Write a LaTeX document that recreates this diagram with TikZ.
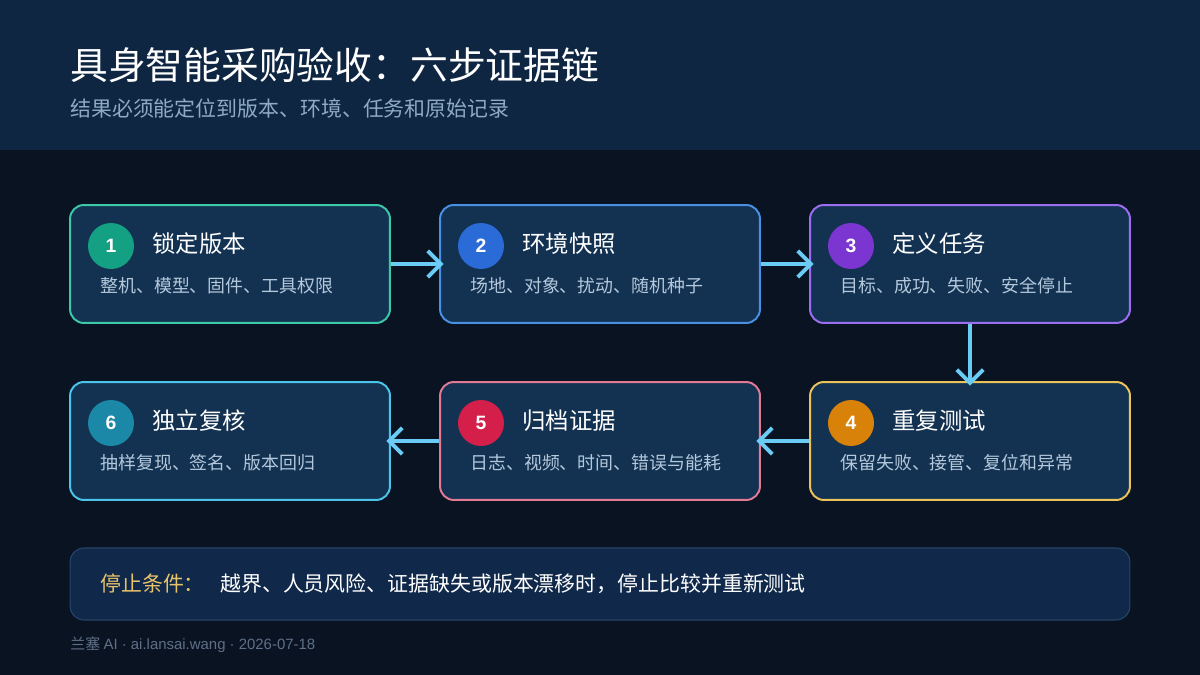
\documentclass[tikz,border=0pt]{standalone}
\usepackage{fontspec}
\setmainfont{Noto Sans CJK SC}
\newfontfamily\numfont{Liberation Sans}
\usetikzlibrary{arrows.meta}
\definecolor{bgdark}{HTML}{0A1322}
\definecolor{bghead}{HTML}{0F2643}
\definecolor{boxfill}{HTML}{133252}
\definecolor{stopfill}{HTML}{10294A}
\definecolor{stopline}{HTML}{26466A}
\definecolor{subgrey}{HTML}{8FA9C6}
\definecolor{descgrey}{HTML}{B4C8DC}
\definecolor{footgrey}{HTML}{5E7088}
\definecolor{arrowblue}{HTML}{6ACCF5}
\definecolor{gold}{HTML}{E8C36A}
\definecolor{teal1}{HTML}{3CC7A8}\definecolor{tealc}{HTML}{14A083}
\definecolor{blue1}{HTML}{4A90E2}\definecolor{bluec}{HTML}{2A6BD8}
\definecolor{purp1}{HTML}{9B6EF0}\definecolor{purpc}{HTML}{7B35D0}
\definecolor{gold1}{HTML}{E9C35A}\definecolor{goldc}{HTML}{D9820A}
\definecolor{pink1}{HTML}{E07A95}\definecolor{pinkc}{HTML}{D41F4B}
\definecolor{cyan1}{HTML}{4CC3E8}\definecolor{cyanc}{HTML}{1A88A6}
\begin{document}
\begin{tikzpicture}[x=0.02cm,y=-0.02cm,
    stepbox/.style={draw,line width=1.13pt,fill=boxfill,rounded corners=7.9pt,
      minimum width=6.4cm,minimum height=2.36cm,inner sep=0pt},
    badge/.style={circle,minimum size=0.92cm,inner sep=0pt,text=white,
      font=\numfont\bfseries\fontsize{11}{11}\selectfont},
    steptitle/.style={anchor=west,inner sep=0pt,text=white,
      font=\fontsize{13.3}{14}\selectfont},
    stepdesc/.style={anchor=west,inner sep=0pt,text=descgrey,
      font=\fontsize{10.2}{11}\selectfont},
    flow/.style={draw=arrowblue,line width=2.2pt,shorten >=-2.6pt,
      -{Straight Barb[length=7.5pt,width=15pt,line width=2.2pt]}}]
      % background and header band
      \useasboundingbox (0,0) rectangle (1200,675);
      \fill[bgdark] (0,0) rectangle (1200,675);
      \fill[bghead] (0,0) rectangle (1200,150);
      \draw
        (70,65) node[anchor=west,inner sep=0pt,text=white,
          font=\fontsize{21.5}{22}\selectfont] (title){具身智能采购验收：六步证据链}
        (70,109) node[anchor=west,inner sep=0pt,text=subgrey,
          font=\fontsize{11.9}{12}\selectfont] (subtitle){结果必须能定位到版本、环境、任务和原始记录};
      % step boxes
      \draw
        (230,264) node[stepbox,draw=teal1] (box1){}
        (600,264) node[stepbox,draw=blue1] (box2){}
        (970,264) node[stepbox,draw=purp1] (box3){}
        (970,441) node[stepbox,draw=gold1] (box4){}
        (600,441) node[stepbox,draw=pink1] (box5){}
        (230,441) node[stepbox,draw=cyan1] (box6){};
      \draw
        (111,246) node[badge,fill=tealc] (num1){1}
        (152,244) node[steptitle] (title1){锁定版本}
        (100,286) node[stepdesc] (desc1){整机、模型、固件、工具权限}
        (481,246) node[badge,fill=bluec] (num2){2}
        (522,244) node[steptitle] (title2){环境快照}
        (470,286) node[stepdesc] (desc2){场地、对象、扰动、随机种子}
        (851,246) node[badge,fill=purpc] (num3){3}
        (892,244) node[steptitle] (title3){定义任务}
        (840,286) node[stepdesc] (desc3){目标、成功、失败、安全停止}
        (851,423) node[badge,fill=goldc] (num4){4}
        (892,421) node[steptitle] (title4){重复测试}
        (840,463) node[stepdesc] (desc4){保留失败、接管、复位和异常}
        (481,423) node[badge,fill=pinkc] (num5){5}
        (522,421) node[steptitle] (title5){归档证据}
        (470,463) node[stepdesc] (desc5){日志、视频、时间、错误与能耗}
        (111,423) node[badge,fill=cyanc] (num6){6}
        (152,421) node[steptitle] (title6){独立复核}
        (100,463) node[stepdesc] (desc6){抽样复现、签名、版本回归};
      \begin{scope}[flow]
        \draw (box1) to (box2);
        \draw (box2) to (box3);
        \draw (box3) to (box4);
        \draw (box4) to (box5);
        \draw (box5) to (box6);
      \end{scope}
      % stop condition bar
      \draw
        (600,584) node[draw=stopline,line width=0.6pt,fill=stopfill,rounded corners=7.9pt,
          minimum width=21.2cm,minimum height=1.44cm] (stop){}
        (100,584) node[anchor=west,inner sep=0pt,text=gold,
          font=\fontsize{11.9}{12}\selectfont] (stoplabel){停止条件：}
        (220,584) node[anchor=west,inner sep=0pt,text=white,
          font=\fontsize{11.9}{12}\selectfont] (stoptext){越界、人员风险、证据缺失或版本漂移时，停止比较并重新测试}
        (70,645) node[anchor=west,inner sep=0pt,text=footgrey,
          font=\fontsize{8.5}{9}\selectfont] (footer){兰塞 {\numfont AI · ai.lansai.wang · 2026-07-18}};
    \end{tikzpicture}
\end{document}
